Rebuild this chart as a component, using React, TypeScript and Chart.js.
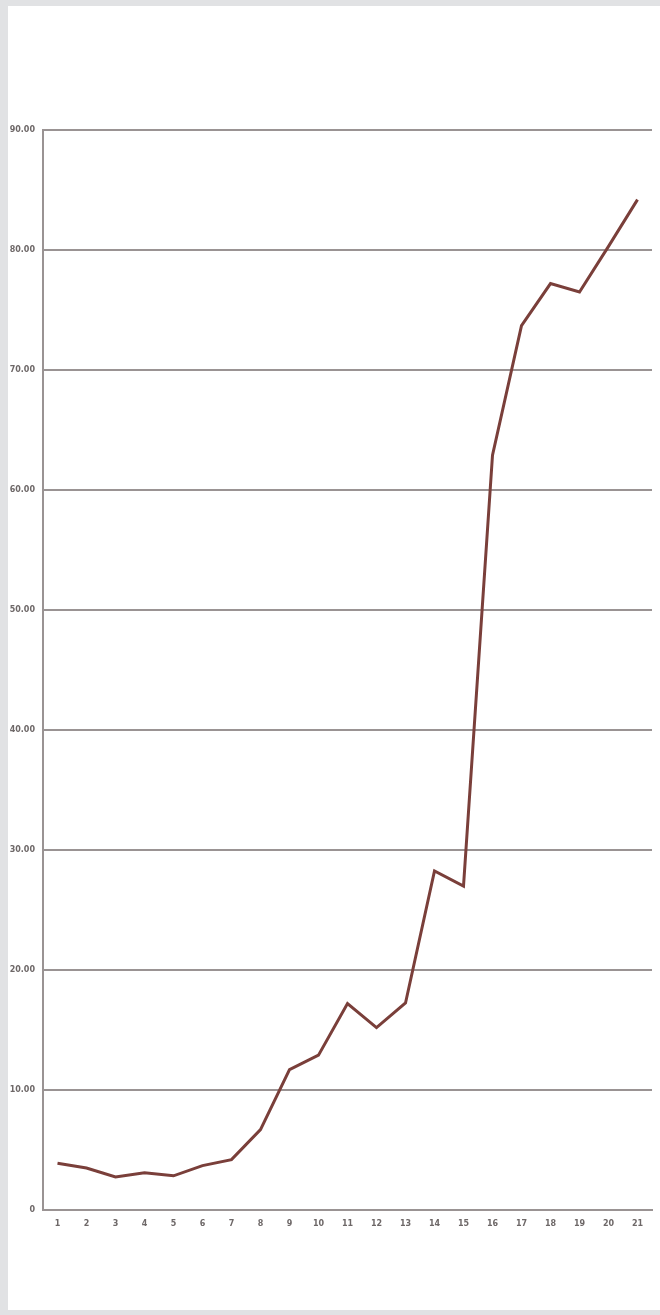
import React, { useEffect, useRef } from "react";
import { Chart, registerables } from "chart.js";

Chart.register(...registerables);

const categories: string[] = [
  "1", "2", "3", "4", "5", "6", "7", "8", "9", "10", "11",
  "12", "13", "14", "15", "16", "17", "18", "19", "20", "21",
];

const seriesValues: number[] = [
  3.9, 3.5, 2.75, 3.1, 2.85, 3.7, 4.2, 6.7, 11.7, 12.9, 17.2,
  15.2, 17.25, 28.25, 27.0, 62.9, 73.7, 77.2, 76.5, 80.3, 84.2,
];

const yMin = 0;
const yMax = 90;
const yStep = 10;

export default function App() {
  const canvasRef = useRef<HTMLCanvasElement | null>(null);

  useEffect(() => {
    document.body.style.margin = "0";
    const canvas = canvasRef.current;
    if (!canvas) return;
    const chart = new Chart(canvas, {
      type: "line",
      data: {
        labels: categories,
        datasets: [
          {
            data: seriesValues,
            borderColor: "#7a3f3a",
            borderWidth: 3,
            pointRadius: 0,
            tension: 0,
            fill: false,
          },
        ],
      },
      options: {
        animation: false,
        responsive: false,
        maintainAspectRatio: false,
        layout: { padding: { left: 0, top: 130, right: 8, bottom: 0 } },
        plugins: { legend: { display: false }, tooltip: { enabled: false } },
        scales: {
          x: {
            offset: true,
            grid: { display: false, drawTicks: false },
            border: { display: true, color: "#9a9393", width: 2 },
            ticks: {
              padding: 9,
              color: "#6e6868",
              font: { family: "DejaVu Sans", size: 8, weight: "bold" },
              maxRotation: 0,
              autoSkip: false,
            },
            afterFit: (scale: any) => {
              scale.height = 105;
            },
          },
          y: {
            min: yMin,
            max: yMax,
            grid: { color: "#9a9393", lineWidth: 2, drawTicks: false },
            border: { display: true, color: "#9a9393", width: 2 },
            ticks: {
              stepSize: yStep,
              padding: 8,
              color: "#6e6868",
              font: { family: "DejaVu Sans", size: 8, weight: "bold" },
              callback: (v: any) => (Number(v) === 0 ? "0" : Number(v).toFixed(2)),
            },
            afterFit: (scale: any) => {
              scale.width = 43;
            },
          },
        },
      },
    });
    return () => chart.destroy();
  }, []);

  return (
    <div
      style={{
        position: "relative",
        width: 660,
        height: 1315,
        background: "#e1e2e4",
        overflow: "hidden",
      }}
    >
      <div
        style={{
          position: "absolute",
          left: 8,
          top: 6,
          right: 0,
          height: 1304,
          background: "#ffffff",
        }}
      />
      <canvas
        ref={canvasRef}
        width={660}
        height={1315}
        style={{ position: "absolute", left: 0, top: 0, width: 660, height: 1315 }}
      />
    </div>
  );
}
